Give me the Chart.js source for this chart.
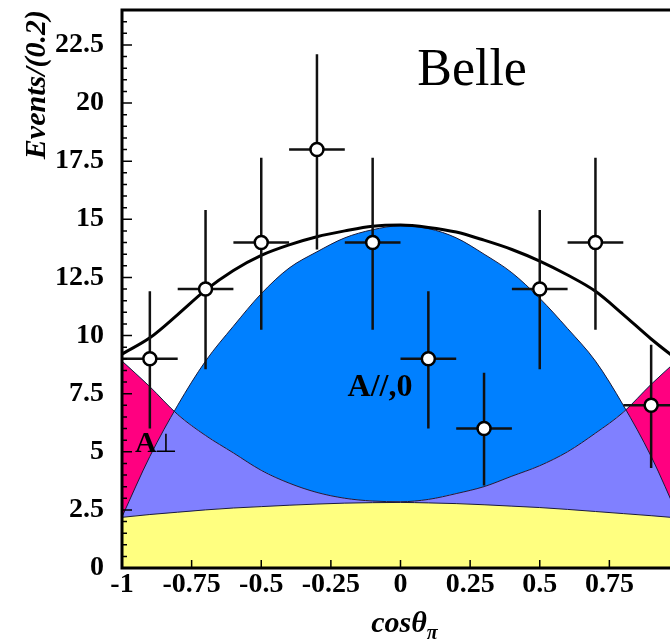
<!DOCTYPE html>
<html>
<head>
<meta charset="utf-8">
<script src="https://cdn.jsdelivr.net/npm/chart.js@4.4.0/dist/chart.umd.min.js"></script>
<style>
html, body { margin: 0; padding: 0; overflow: hidden; background: #fff; }
canvas { display: block; }
</style>
</head>
<body>
<canvas id="helicity" width="720" height="642"></canvas>
<script>
// fit curves, sampled every 0.1 in cos(theta)
const cosGrid = [-1, -0.9, -0.8, -0.7, -0.6, -0.5, -0.4, -0.3, -0.2, -0.1, 0,
                 0.1, 0.2, 0.3, 0.4, 0.5, 0.6, 0.7, 0.8, 0.9, 1];
const bkgCurve  = [2.18, 2.3, 2.4, 2.5, 2.58, 2.64, 2.7, 2.75, 2.79, 2.81, 2.82,
                   2.8, 2.77, 2.72, 2.66, 2.6, 2.52, 2.43, 2.34, 2.25, 2.15];
const perpCurve = [8.9, 7.8, 6.6, 5.7, 4.95, 4.2, 3.65, 3.25, 3.0, 2.88, 2.85,
                   2.95, 3.2, 3.5, 3.95, 4.4, 5.0, 5.8, 6.7, 7.9, 9.0];
const longCurve = [2.2, 4.8, 7.0, 8.9, 10.4, 11.8, 12.9, 13.6, 14.2, 14.55, 14.72,
                   14.6, 14.2, 13.5, 12.7, 11.6, 10.3, 8.9, 7.0, 4.8, 2.15];
const totalCurve = [9.2, 9.9, 10.9, 11.95, 12.8, 13.45, 13.9, 14.25, 14.5, 14.7, 14.75,
                    14.65, 14.45, 14.1, 13.7, 13.2, 12.6, 11.9, 10.9, 9.85, 8.9];

// measured events
const binCenters = [-0.9, -0.7, -0.5, -0.3, -0.1, 0.1, 0.3, 0.5, 0.7, 0.9];
const eventCounts = [9, 12, 14, 18, 14, 9, 6, 12, 14, 7];
const errUp   = [2.9, 3.4, 3.65, 4.1, 3.65, 2.9, 2.4, 3.4, 3.65, 2.6];
const errDown = [3.0, 3.45, 3.75, 4.3, 3.75, 3.0, 2.45, 3.45, 3.75, 2.7];
const binHalfWidth = 0.1;

const xTicks = [-1, -0.75, -0.5, -0.25, 0, 0.25, 0.5, 0.75, 1];
const yTicks = [0, 2.5, 5, 7.5, 10, 12.5, 15, 17.5, 20, 22.5];

const serif = '"Liberation Serif", "Times New Roman", serif';
Chart.defaults.font.family = serif;
Chart.defaults.color = '#000';

const curve = (values) => cosGrid.map((x, i) => ({ x, y: values[i] }));
const edge = '#1a1a3a';

// keep the plot box where the layout padding puts it
const noLabelPadding = (s) => {
    s.paddingTop = 0;
    s.paddingBottom = 0;
    s.paddingLeft = 0;
    s.paddingRight = 0;
};

// error bars go under the open circles
const errorBars = {
    id: 'errorBars',
    beforeDatasetDraw(chart, args) {
        if (args.index !== 4) return;
        const { ctx, scales: { x, y } } = chart;
        ctx.save();
        ctx.strokeStyle = '#111';
        ctx.lineWidth = 2.5;
        ctx.beginPath();
        binCenters.forEach((c, i) => {
            const px = x.getPixelForValue(c);
            const py = y.getPixelForValue(eventCounts[i]);
            ctx.moveTo(px, y.getPixelForValue(eventCounts[i] + errUp[i]));
            ctx.lineTo(px, y.getPixelForValue(eventCounts[i] - errDown[i]));
            ctx.moveTo(x.getPixelForValue(c - binHalfWidth), py);
            ctx.lineTo(x.getPixelForValue(c + binHalfWidth), py);
        });
        ctx.stroke();
        ctx.restore();
    }
};

// ROOT style frame, inward ticks and the labels inside the pad
const frame = {
    id: 'frame',
    afterDatasetsDraw(chart) {
        const { ctx, chartArea: a, scales: { x, y } } = chart;
        ctx.save();
        ctx.strokeStyle = '#000';
        ctx.lineWidth = 1.5;
        ctx.beginPath();
        for (let k = 0; k <= 48; k++) {
            const py = y.getPixelForValue(k * 0.5);
            ctx.moveTo(a.left, py);
            ctx.lineTo(a.left + (k % 5 === 0 ? 10 : 5), py);
        }
        xTicks.forEach(v => {
            const px = x.getPixelForValue(v);
            ctx.moveTo(px, a.bottom);
            ctx.lineTo(px, a.bottom - 8);
        });
        ctx.stroke();

        ctx.lineWidth = 3;
        ctx.beginPath();
        ctx.moveTo(a.left, a.top);
        ctx.lineTo(a.left, a.bottom);
        ctx.lineTo(a.right, a.bottom);
        ctx.lineTo(a.right, a.top);
        ctx.closePath();
        ctx.stroke();

        ctx.fillStyle = '#000';
        ctx.textBaseline = 'alphabetic';
        ctx.textAlign = 'center';
        ctx.font = `52px ${serif}`;
        ctx.fillText('Belle', x.getPixelForValue(0.257), y.getPixelForValue(20.77));

        ctx.textAlign = 'left';
        ctx.font = `bold 32px ${serif}`;
        ctx.fillText('A//,0', x.getPixelForValue(-0.19), y.getPixelForValue(7.4));

        const ax = x.getPixelForValue(-0.953);
        const ay = y.getPixelForValue(4.99);
        ctx.font = `bold 30px ${serif}`;
        ctx.fillText('A', ax, ay);
        const aw = ctx.measureText('A').width;
        ctx.font = `26px "DejaVu Sans", sans-serif`;
        ctx.fillText('⊥', ax + aw - 2, ay);

        // axis title with subscript
        ctx.font = `italic bold 30px ${serif}`;
        const w1 = ctx.measureText('cosθ').width;
        ctx.font = `italic bold 20px ${serif}`;
        const w2 = ctx.measureText('π').width;
        const sx = x.getPixelForValue(0) + 4 - (w1 + w2) / 2;
        ctx.font = `italic bold 30px ${serif}`;
        ctx.fillText('cosθ', sx, a.bottom + 64);
        ctx.font = `italic bold 20px ${serif}`;
        ctx.fillText('π', sx + w1, a.bottom + 71);
        ctx.restore();
    }
};

new Chart(document.getElementById('helicity'), {
    type: 'line',
    data: {
        datasets: [
            {
                data: curve(bkgCurve), order: 5,
                borderColor: edge, borderWidth: 1, pointRadius: 0,
                backgroundColor: '#ffff80', fill: 'origin',
                cubicInterpolationMode: 'monotone'
            },
            {
                data: curve(perpCurve), order: 4,
                borderColor: edge, borderWidth: 1, pointRadius: 0,
                fill: { target: 0, above: '#8080ff', below: '#8080ff' },
                cubicInterpolationMode: 'monotone'
            },
            {
                data: curve(longCurve), order: 3,
                borderColor: edge, borderWidth: 1, pointRadius: 0,
                fill: { target: 1, above: '#0080ff', below: '#ff0080' },
                cubicInterpolationMode: 'monotone'
            },
            {
                data: curve(totalCurve), order: 2,
                borderColor: '#000', borderWidth: 3, pointRadius: 0,
                fill: false, cubicInterpolationMode: 'monotone'
            },
            {
                data: binCenters.map((c, i) => ({ x: c, y: eventCounts[i] })), order: 1,
                showLine: false, pointRadius: 6.5, pointBorderWidth: 2.5,
                pointBackgroundColor: '#fff', pointBorderColor: '#000'
            }
        ]
    },
    options: {
        responsive: false,
        animation: false,
        layout: { padding: { left: 19, right: 41, top: 10, bottom: 0 } },
        plugins: {
            legend: { display: false },
            tooltip: { enabled: false },
            filler: { drawTime: 'beforeDatasetsDraw' }
        },
        scales: {
            x: {
                type: 'linear', min: -1, max: 1,
                grid: { display: false, drawTicks: false },
                border: { display: false },
                afterBuildTicks: s => { s.ticks = xTicks.map(v => ({ value: v })); },
                afterFit: s => { s.height = 74; noLabelPadding(s); },
                ticks: {
                    autoSkip: false, maxRotation: 0, padding: 0,
                    font: { size: 28, weight: 'bold' },
                    callback: v => String(v)
                }
            },
            y: {
                type: 'linear', min: 0, max: 24,
                grid: { display: false, drawTicks: false },
                border: { display: false },
                afterBuildTicks: s => { s.ticks = yTicks.map(v => ({ value: v })); },
                afterFit: s => { s.width = 103; noLabelPadding(s); },
                ticks: {
                    padding: 18,
                    font: { size: 28, weight: 'bold' },
                    callback: v => String(v)
                },
                title: {
                    display: true, text: 'Events/(0.2)', align: 'end', padding: 0,
                    font: { size: 30, style: 'italic', weight: 'bold' }
                }
            }
        }
    },
    plugins: [errorBars, frame]
});
</script>
</body>
</html>
